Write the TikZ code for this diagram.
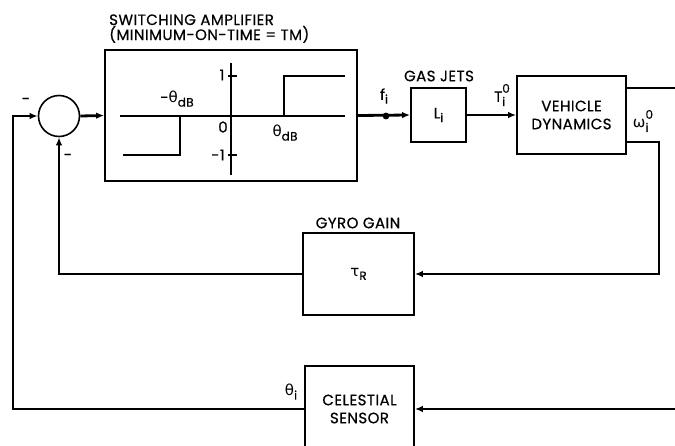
\documentclass[tikz,border=0pt]{standalone}
\usepackage{fontspec}
\setmainfont{Poppins}[LetterSpace=3, FakeBold=0.6]
\newfontfamily\grk{DejaVu Sans}
\usetikzlibrary{arrows.meta}
\newcommand{\lowr}[1]{\raisebox{-0.45ex}{\fontsize{12}{12}\selectfont #1}}
\newcommand{\lowup}[2]{\raisebox{-0.5ex}{\fontsize{12}{12}\selectfont\makebox[0pt][l]{#1}}\raisebox{1.1ex}{\fontsize{12}{12}\selectfont #2}}

\begin{document}
\begin{tikzpicture}[x=1pt, y=-1pt,
    blk/.style={draw, line width=1.8pt, inner sep=0pt, align=center,
                font=\fontsize{15}{18}\selectfont},
    sig/.style={line width=2.8pt},
    arr/.style={sig, -{Latex[length=8pt,width=6.5pt]}},
    thin/.style={line width=1.8pt},
    lbl/.style={font=\fontsize{15}{15}\selectfont, inner sep=0pt, align=center},
    sym/.style={font=\fontsize{15}{15}\selectfont, inner sep=0pt},
  ]
    \useasboundingbox (0,0) rectangle (675,446);

    % Blocks of the loop
    \node[circle, draw, line width=1.6pt, minimum size=41pt] (sum) at (59,116) {};
    \node[blk, minimum width=252pt, minimum height=131pt] (amp) at (231,115.5) {};
    \node[blk, minimum width=55pt, minimum height=54pt] (gas) at (438.5,115) {L\lowr{i}};
    \node[blk, minimum width=109pt, minimum height=78pt] (veh) at (571.5,115) {VEHICLE\\DYNAMICS};
    \node[blk, minimum width=111pt, minimum height=82pt] (gyro) at (358.5,274) {{\grk τ}\lowr{R}};
    \node[blk, minimum width=109pt, minimum height=86pt] (cel) at (359.5,409) {CELESTIAL\\SENSOR};

    % Block titles
    \node[lbl, align=left, anchor=south west] (ampt) at (109,43) {SWITCHING AMPLIFIER\\(MINIMUM-ON-TIME = TM)};
    \node[lbl] (gast) at (439,76) {GAS JETS};
    \node[lbl] (gyrot) at (358,223) {GYRO GAIN};

    % Relay characteristic
    \draw[thin] (120,116) -- (345,116);
    \draw[thin] (231,63) -- (231,175);
    \draw[thin] (228,76) -- (237,76);
    \draw[thin] (228,155) -- (237,155);
    \draw[thin] (284,116) -- (284,76) -- (345,76);
    \draw[thin] (123,155) -- (180,155) -- (180,116);
    \node[sym] (one) at (222,75) {1};
    \node[sym] (mone) at (218,155) {-1};
    \node[sym] (zero) at (223,127) {0};
    \node[sym] (mdb) at (177,99) {-{\grk θ}\lowr{dB}};
    \node[sym] (pdb) at (285,133) {{\grk θ}\lowr{dB}};

    % Forward path
    \coordinate (fdot) at (386,116);
    \coordinate (vout) at (675,88);
    \draw[arr] (sum.east) -- (amp.west);
    \draw[arr] (amp.east) -- (gas.west);
    \fill (fdot) circle (3.4pt);
    \draw[arr] (gas.east) -- (veh.west);
    \draw[sig] ([yshift=27pt]veh.east) -- (vout);

    % Rate feedback
    \coordinate (rr) at (659,274);
    \draw[arr] ([yshift=-27pt]veh.east) -| (rr) -- (gyro.east);
    \draw[arr] (gyro.west) -| (sum.south);

    % Attitude feedback
    \coordinate (rin) at (675,409);
    \coordinate (lc) at (13,116);
    \draw[arr] (rin) -- (cel.east);
    \draw[arr] (cel.west) -| (lc) -- (sum.west);

    % Signal labels
    \node[sym] (fi) at (384,96) {f\lowr{i}};
    \node[sym] (ti) at (502,95) {T\lowup{i}{0}};
    \node[sym] (wi) at (643,121) {{\grk ω}\lowup{i}{0}};
    \node[sym] (thi) at (291,392) {{\grk θ}\lowr{i}};
    \node[sym] (m1) at (26,101) {-};
    \node[sym] (m2) at (68,157) {-};
\end{tikzpicture}
\end{document}
